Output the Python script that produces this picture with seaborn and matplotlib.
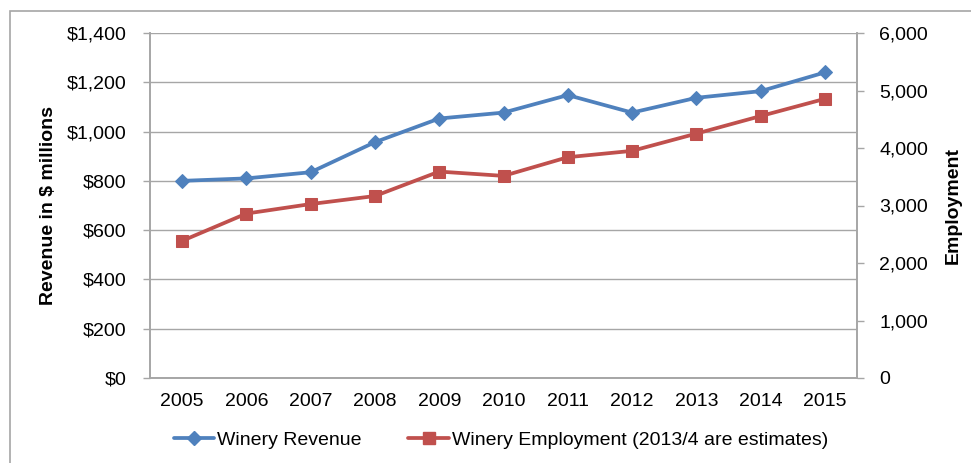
import matplotlib
matplotlib.use("Agg")
import matplotlib.pyplot as plt
from matplotlib.patches import Rectangle
from matplotlib.lines import Line2D
from matplotlib.ticker import FuncFormatter, FixedLocator
import seaborn as sns
import pandas as pd

years = ['2005', '2006', '2007', '2008', '2009', '2010', '2011', '2012', '2013', '2014', '2015']
revenue = [800, 810, 835, 957, 1053, 1077, 1148, 1077, 1137, 1164, 1240]
employment = [2385, 2860, 3025, 3165, 3590, 3515, 3840, 3950, 4250, 4555, 4855]

blue = '#4F81BD'
red = '#C0504D'
grey = '#A6A6A6'
fs = 14

sns.set_style('white')
plt.rcParams['font.family'] = ['Liberation Sans', 'DejaVu Sans']
plt.rcParams['text.color'] = 'black'
plt.rcParams['axes.labelcolor'] = 'black'

df = pd.DataFrame({'pos': range(len(years)), 'year': years,
                   'revenue': revenue, 'employment': employment})

fig = plt.figure(figsize=(9.71, 4.63), dpi=100)
ax = fig.add_axes([150/971, 1-378/463, (857-150)/971, (378-33)/463])
ax2 = ax.twinx()

sns.lineplot(data=df, x='pos', y='revenue', ax=ax, color=blue, linewidth=2.7,
             marker='D', markersize=7.5, markeredgecolor=blue)
sns.lineplot(data=df, x='pos', y='employment', ax=ax2, color=red, linewidth=2.7,
             marker='s', markersize=8.5, markeredgecolor=red)

ax.set_ylim(0, 1400)
ax2.set_ylim(0, 6000)
ax.set_xlim(-0.5, len(years) - 0.5)
ax.set_yticks(range(0, 1401, 200))
ax2.set_yticks(range(0, 6001, 1000))
ax.yaxis.set_major_formatter(FuncFormatter(lambda v, p: '\\${:,.0f}'.format(v)))
ax2.yaxis.set_major_formatter(FuncFormatter(lambda v, p: '{:,.0f}'.format(v)))

ax.set_xticks(df['pos'])
ax.set_xticklabels(years)
ax.xaxis.set_minor_locator(FixedLocator([i - 0.5 for i in range(len(years) + 1)]))
ax.tick_params(axis='x', which='major', length=0, pad=11, labelsize=fs, labelcolor='black')
ax.tick_params(axis='x', which='minor', length=5, width=1, color=grey, direction='out')
ax.tick_params(axis='y', length=5, width=1, color=grey, direction='out', labelsize=fs,
               labelcolor='black', pad=12)
ax2.tick_params(axis='y', length=5, width=1, color=grey, direction='out', labelsize=fs,
                labelcolor='black', pad=11)

ax.grid(axis='y', color=grey, linewidth=1)
ax.set_axisbelow(True)
for a in (ax, ax2):
    a.spines['top'].set_visible(False)
    for s in ('left', 'right', 'bottom'):
        a.spines[s].set_color(grey)
        a.spines[s].set_linewidth(1.2)

ax.set_xlabel('')
ax.set_ylabel('Revenue in \\$ millions', fontsize=fs, fontweight='bold', labelpad=7)
ax2.set_ylabel('Employment', fontsize=fs, fontweight='bold', labelpad=12)

handles = [Line2D([], [], color=blue, linewidth=2.7, marker='D', markersize=7.5),
           Line2D([], [], color=red, linewidth=2.7, marker='s', markersize=8.5)]
fig.legend(handles, ['Winery Revenue', 'Winery Employment (2013/4 are estimates)'],
           loc='center', bbox_to_anchor=(0.516, 1-440/463), ncol=2, frameon=False,
           fontsize=fs, handlelength=2.1, handletextpad=0.15, columnspacing=2.4)

fig.patches.append(Rectangle((10/971, -0.1), 1.2, 1-11/463+0.1, transform=fig.transFigure,
                             fill=False, edgecolor=grey, linewidth=1.2))

fig.savefig('out.png', dpi=100)
